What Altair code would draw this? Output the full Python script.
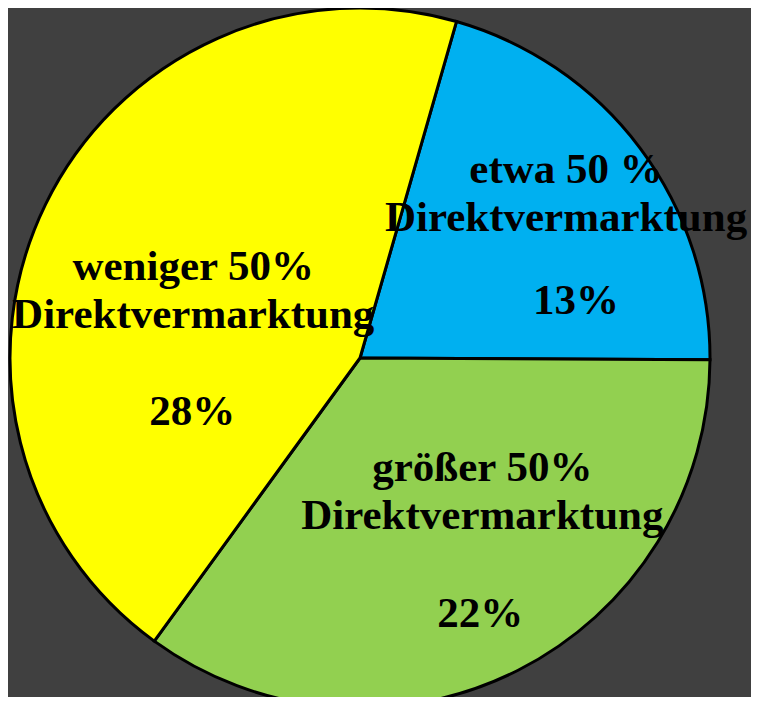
import math
import altair as alt
import pandas as pd

# ---- data ----
categories = ["etwa 50 %", "größer 50%", "weniger 50%"]
shares = [13, 22, 28]
percent_labels = ["13%", "22%", "28%"]
line2 = ["Direktvermarktung", "Direktvermarktung", "Direktvermarktung"]
colors = ["#00B0F0", "#92D050", "#FFFF00"]

df = pd.DataFrame({
    "cat": categories,
    "value": shares,
    "pct": percent_labels,
    "name": [a + "\n" + b for a, b in zip(categories, line2)],
    "order": list(range(len(categories))),
})

start = math.radians(16)
theta_scale = alt.Scale(range=[start, start + 2 * math.pi])
cx, cy = 352, 350   # pie centre inside the view
R = 350

base = alt.Chart(df).encode(
    theta=alt.Theta("value:Q", stack=True, scale=theta_scale),
    order=alt.Order("order:Q"),
    x=alt.value(cx),
    y=alt.value(cy),
)

pie = base.mark_arc(radius=R, stroke="black", strokeWidth=3).encode(
    color=alt.Color("cat:N", scale=alt.Scale(domain=categories, range=colors), legend=None)
)

# label offsets (style): (name dx, name dy, pct dx, pct dy)
offsets = {
    "etwa 50 %": (46, -68, 56, 63),
    "größer 50%": (32, -68, 30, 78),
    "weniger 50%": (13, -3, 12, 142),
}

text_style = dict(radius=200, font="Liberation Serif", fontWeight="bold", fontSize=43,
                  lineHeight=48, color="black", align="center", baseline="middle",
                  lineBreak="\n")

layers = [pie]
for c in categories:
    ndx, ndy, pdx, pdy = offsets[c]
    layers.append(base.mark_text(dx=ndx, dy=ndy, **text_style).encode(
        text=alt.condition(alt.datum.cat == c, "name:N", alt.value(""))))
    layers.append(base.mark_text(dx=pdx, dy=pdy, **text_style).encode(
        text=alt.condition(alt.datum.cat == c, "pct:N", alt.value(""))))

chart = alt.layer(*layers).properties(
    width=743, height=689,
    autosize=alt.AutoSizeParams(type="none"),
    padding=0,
    background="#404040",
).configure_view(stroke=None)

chart.save("out.html", embed_options={"renderer": "svg", "actions": False})
